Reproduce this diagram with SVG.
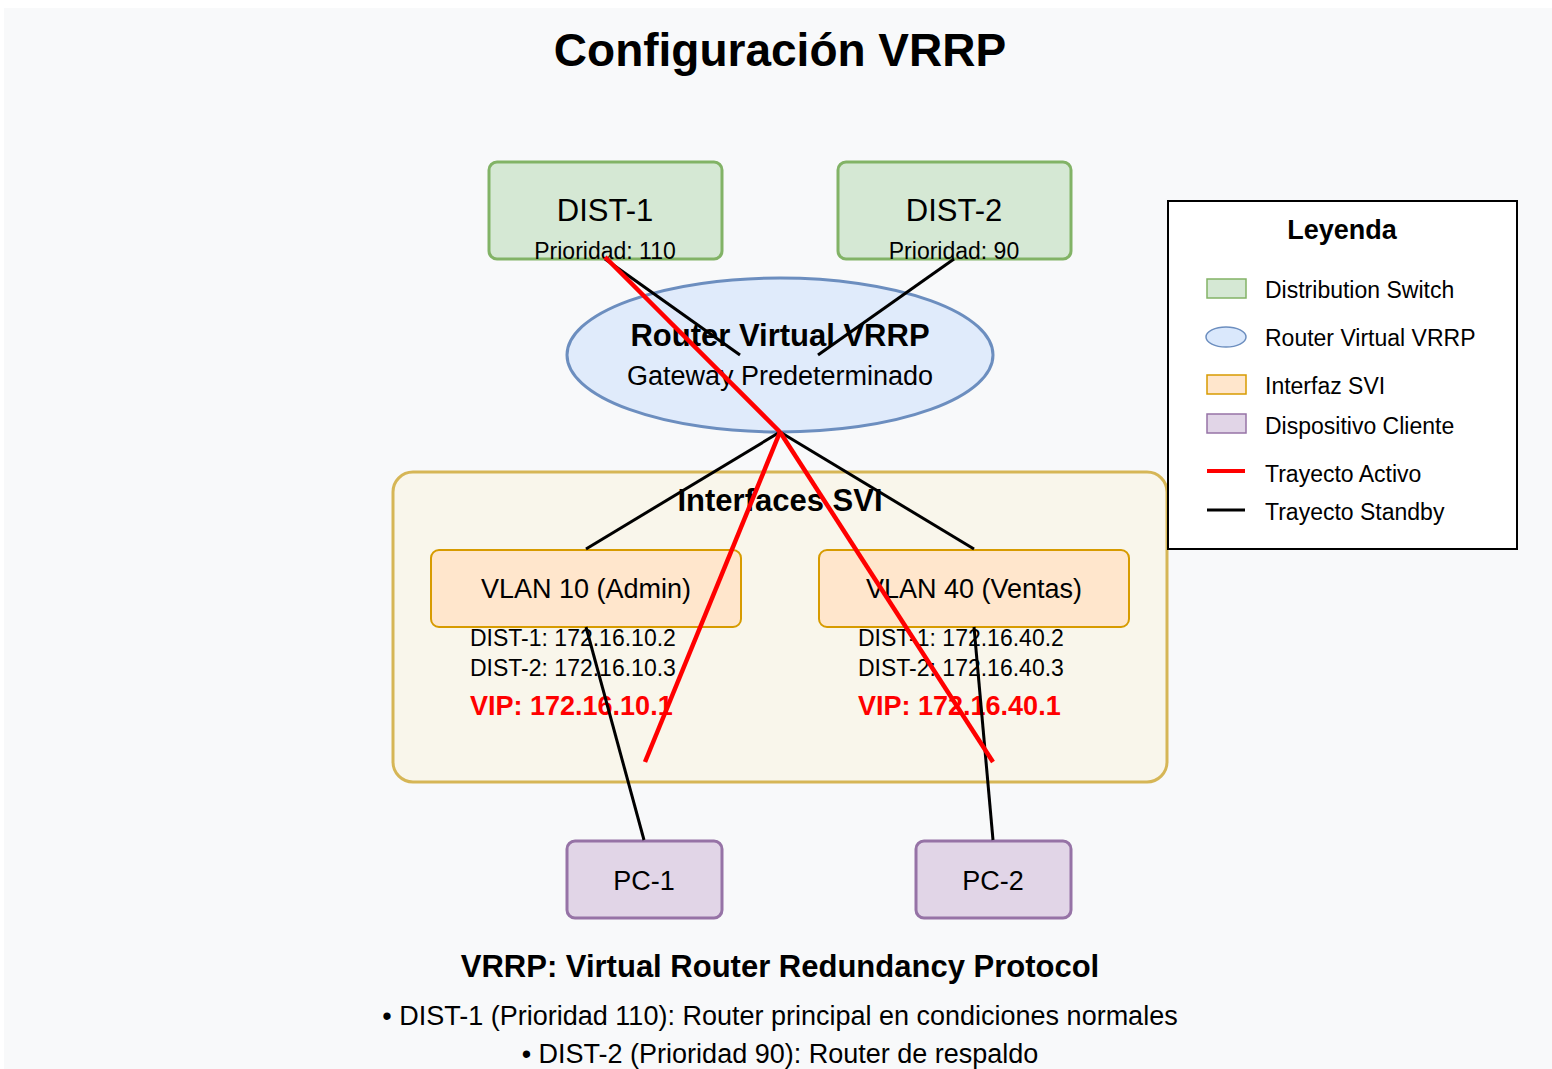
<svg xmlns="http://www.w3.org/2000/svg" width="1552" height="1069" viewBox="0 0 1552 1069">
<style>
text{font-family:"Liberation Sans",Arial,sans-serif;fill:#000}
.c{text-anchor:middle}
.b{font-weight:bold}
.sw{fill:#d5e8d4;stroke:#82b366;stroke-width:3}
.pc{fill:#e1d5e7;stroke:#9673a6;stroke-width:3}
.svi{fill:#ffe6cc;stroke:#d79b00;stroke-width:2}
.act{stroke:#ff0000;stroke-width:4.5;fill:none}
.sb{stroke:#000;stroke-width:3;fill:none}
.vip{fill:#ff0000;font-weight:bold;font-size:27px}
.ip{font-size:23px}
.lg{font-size:23px}
</style>
<rect x="0" y="0" width="1552" height="1069" fill="#ffffff"/>
<rect x="4" y="8" width="1548" height="1061" fill="#f8f9fa"/>
<text class="c b" x="780" y="66" font-size="46">Configuración VRRP</text>

<g id="svi-group">
<rect x="393" y="472" width="774" height="310" rx="20" fill="#f9f6eb" stroke="#d6b656" stroke-width="3"/>
<text class="c b" x="780" y="511" font-size="31">Interfaces SVI</text>
</g>

<g id="vrrp">
<ellipse cx="780" cy="355" rx="213" ry="77" fill="#e0ebfb" stroke="#6c8ebf" stroke-width="3"/>
<text class="c b" x="780" y="346" font-size="31">Router Virtual VRRP</text>
<text class="c" x="780" y="385" font-size="27">Gateway Predeterminado</text>
</g>

<g id="dist1">
<rect class="sw" x="489" y="162" width="233" height="97" rx="8"/>
<text class="c" x="605" y="221" font-size="31">DIST-1</text>
<text class="c" x="605" y="259" font-size="23">Prioridad: 110</text>
</g>
<g id="dist2">
<rect class="sw" x="838" y="162" width="233" height="97" rx="8"/>
<text class="c" x="954" y="221" font-size="31">DIST-2</text>
<text class="c" x="954" y="259" font-size="23">Prioridad: 90</text>
</g>

<g id="vlan10">
<rect class="svi" x="431" y="550" width="310" height="77" rx="8"/>
<text class="c" x="586" y="598" font-size="27">VLAN 10 (Admin)</text>
<text class="ip" x="470" y="646">DIST-1: 172.16.10.2</text>
<text class="ip" x="470" y="676">DIST-2: 172.16.10.3</text>
<text class="vip" x="470" y="715">VIP: 172.16.10.1</text>
</g>
<g id="vlan40">
<rect class="svi" x="819" y="550" width="310" height="77" rx="8"/>
<text class="c" x="974" y="598" font-size="27">VLAN 40 (Ventas)</text>
<text class="ip" x="858" y="646">DIST-1: 172.16.40.2</text>
<text class="ip" x="858" y="676">DIST-2: 172.16.40.3</text>
<text class="vip" x="858" y="715">VIP: 172.16.40.1</text>
</g>

<g id="pc1">
<rect class="pc" x="567" y="841" width="155" height="77" rx="8"/>
<text class="c" x="644" y="890" font-size="27">PC-1</text>
</g>
<g id="pc2">
<rect class="pc" x="916" y="841" width="155" height="77" rx="8"/>
<text class="c" x="993" y="890" font-size="27">PC-2</text>
</g>

<g id="connectors">
<line class="sb" x1="605" y1="259" x2="740" y2="355"/>
<line class="sb" x1="954" y1="259" x2="818" y2="355"/>
<line class="sb" x1="780" y1="432" x2="586" y2="549"/>
<line class="sb" x1="780" y1="432" x2="974" y2="549"/>
<line class="sb" x1="586" y1="627" x2="644" y2="840"/>
<line class="sb" x1="974" y1="627" x2="993" y2="840"/>
<line class="act" x1="605" y1="257" x2="780" y2="432"/>
<line class="act" x1="780" y1="432" x2="645" y2="762"/>
<line class="act" x1="780" y1="432" x2="993" y2="762"/>
</g>

<g id="legend">
<rect x="1168" y="201" width="349" height="348" fill="#ffffff" stroke="#000" stroke-width="2"/>
<text class="c b" x="1342" y="239" font-size="27">Leyenda</text>
<rect x="1207" y="279" width="39" height="19" fill="#d5e8d4" stroke="#82b366" stroke-width="1.5"/>
<text class="lg" x="1265" y="298">Distribution Switch</text>
<ellipse cx="1226" cy="337" rx="20" ry="10" fill="#dae8fc" stroke="#6c8ebf" stroke-width="1.5"/>
<text class="lg" x="1265" y="346">Router Virtual VRRP</text>
<rect x="1207" y="375" width="39" height="19" fill="#ffe6cc" stroke="#d79b00" stroke-width="1.5"/>
<text class="lg" x="1265" y="394">Interfaz SVI</text>
<rect x="1207" y="414" width="39" height="19" fill="#e1d5e7" stroke="#9673a6" stroke-width="1.5"/>
<text class="lg" x="1265" y="434">Dispositivo Cliente</text>
<line x1="1207" y1="471" x2="1245" y2="471" stroke="#ff0000" stroke-width="4"/>
<text class="lg" x="1265" y="482">Trayecto Activo</text>
<line x1="1207" y1="510" x2="1245" y2="510" stroke="#000" stroke-width="3"/>
<text class="lg" x="1265" y="520">Trayecto Standby</text>
</g>

<text class="c b" x="780" y="977" font-size="31">VRRP: Virtual Router Redundancy Protocol</text>
<text class="c" x="780" y="1025" font-size="27">• DIST-1 (Prioridad 110): Router principal en condiciones normales</text>
<text class="c" x="780" y="1063" font-size="27">• DIST-2 (Prioridad 90): Router de respaldo</text>
</svg>
